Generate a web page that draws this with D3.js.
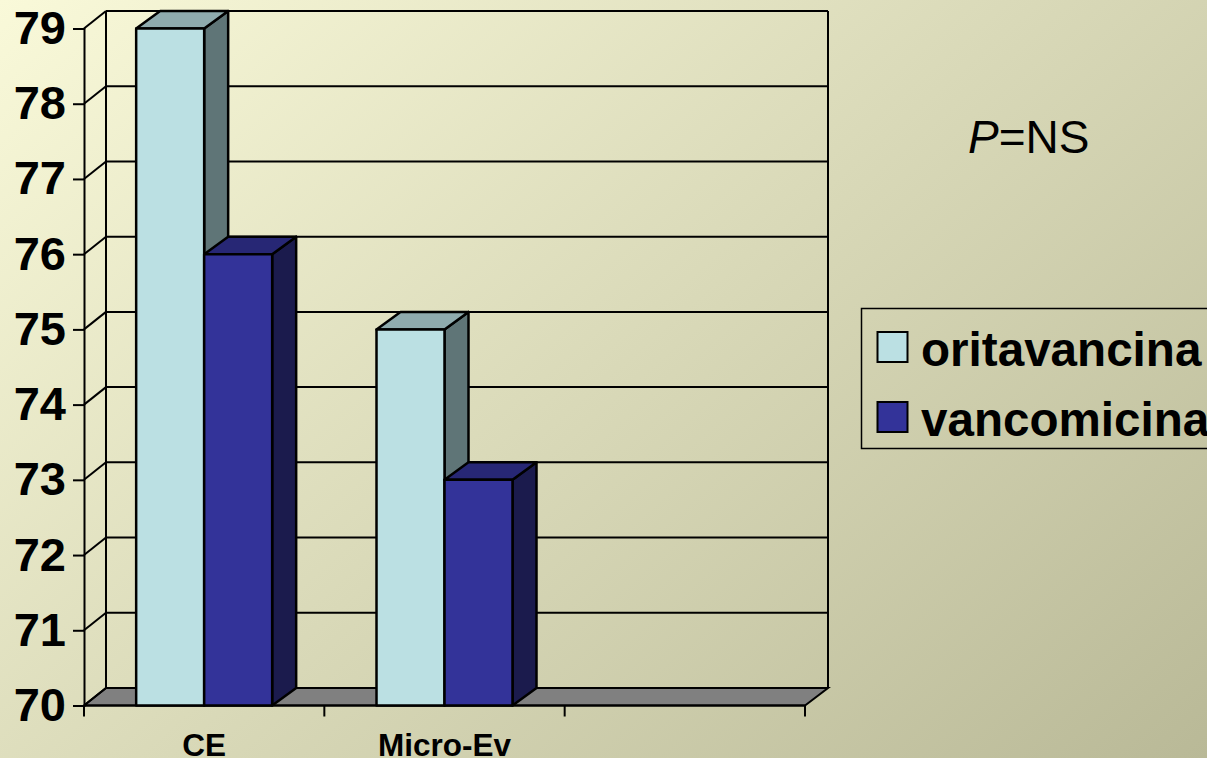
<!DOCTYPE html>
<html>
<head>
<meta charset="utf-8">
<script src="https://cdn.jsdelivr.net/npm/d3@7/dist/d3.min.js"></script>
<style>
  html, body { margin: 0; padding: 0; overflow: hidden; background: #d8d8b8; }
  svg { display: block; }
  text { font-family: "Liberation Sans", Arial, sans-serif; fill: #000; }
</style>
</head>
<body>
<svg id="chart" width="1207" height="758"></svg>
<script>
// Clinical response rates by analysis population
const categories = ["CE", "Micro-Ev", ""];
const seriesNames = ["oritavancina", "vancomicina"];
const oritavancina = [79, 75];
const vancomicina = [76, 73];
const yTicks = [70, 71, 72, 73, 74, 75, 76, 77, 78, 79];
const pLabel = "NS";

const palette = [
  { front: "#BBE0E3", top: "#8FABAE", side: "#5F7577" },
  { front: "#333399", top: "#272775", side: "#1B1B4D" }
];

const svg = d3.select("#chart");

// Slide background: a soft diagonal wash
const grad = svg.append("defs").append("linearGradient")
  .attr("id", "wash").attr("gradientUnits", "userSpaceOnUse")
  .attr("x1", 0).attr("y1", 0).attr("x2", 893).attr("y2", 1030);
grad.append("stop").attr("offset", 0).attr("stop-color", "#F9F9D9");
grad.append("stop").attr("offset", 1).attr("stop-color", "#B9B997");
svg.append("rect").attr("width", 1207).attr("height", 758).attr("fill", "url(#wash)");

// Front plane of the pseudo-3D plot, with the depth offsets of walls and bars
const plot = { left: 84, right: 805, top: 28.5, bottom: 705.5 };
const wallDepth = { x: 22, y: -17.5 };
const barDepth = { x: 24, y: -17.5 };
const barWidth = 68;

const x = d3.scaleBand().domain(categories).range([plot.left, plot.right]);
const y = d3.scaleLinear().domain([70, 79]).range([plot.bottom, plot.top]);

const line = { stroke: "#000", "stroke-width": 2, fill: "none" };
const applyAttrs = (sel, attrs) => { Object.entries(attrs).forEach(([k, v]) => sel.attr(k, v)); return sel; };
const poly = pts => pts.map(p => p.join(",")).join(" ");

// Floor
svg.append("polygon")
  .attr("points", poly([
    [plot.left, y(70)],
    [plot.left + wallDepth.x, y(70) + wallDepth.y],
    [plot.right + wallDepth.x + 1, y(70) + wallDepth.y],
    [plot.right, y(70)]
  ]))
  .attr("fill", "#808080").attr("stroke", "#000").attr("stroke-width", 2);

// Back-wall frame and gridlines, with the connecting slants on the side wall
const grid = svg.append("g");
grid.selectAll("line.h").data(yTicks).join("line").attr("class", "h")
  .attr("x1", plot.left + wallDepth.x).attr("x2", plot.right + wallDepth.x + 1)
  .attr("y1", d => y(d) + wallDepth.y).attr("y2", d => y(d) + wallDepth.y)
  .call(applyAttrs, line);
grid.selectAll("line.s").data(yTicks).join("line").attr("class", "s")
  .attr("x1", plot.left).attr("x2", plot.left + wallDepth.x)
  .attr("y1", d => y(d)).attr("y2", d => y(d) + wallDepth.y)
  .call(applyAttrs, line);
grid.append("line")
  .attr("x1", plot.left + wallDepth.x).attr("x2", plot.left + wallDepth.x)
  .attr("y1", y(79) + wallDepth.y).attr("y2", y(70) + wallDepth.y)
  .call(applyAttrs, line);
grid.append("line")
  .attr("x1", plot.right + wallDepth.x + 1).attr("x2", plot.right + wallDepth.x + 1)
  .attr("y1", y(79) + wallDepth.y).attr("y2", y(70) + wallDepth.y)
  .call(applyAttrs, line);

// Value axis
const yAxis = svg.append("g").attr("transform", `translate(${plot.left},0)`)
  .call(d3.axisLeft(y).tickValues(yTicks).tickSize(11).tickPadding(7).tickFormat(d3.format("d")));
yAxis.selectAll("path, line").attr("stroke", "#000").attr("stroke-width", 2);
yAxis.selectAll("text")
  .attr("font-size", 47).attr("font-weight", "bold")
  .attr("font-family", "Liberation Sans").attr("fill", "#000");

// Category axis: ticks sit on band edges, labels are centred in each band
const edges = categories.map(c => x(c)).concat(plot.right);
const xAxis = svg.append("g").attr("transform", `translate(0,${plot.bottom})`);
xAxis.append("line").attr("x1", plot.left).attr("x2", plot.right).call(applyAttrs, line);
xAxis.selectAll("line.t").data(edges).join("line").attr("class", "t")
  .attr("x1", d => d).attr("x2", d => d).attr("y1", 0).attr("y2", 11)
  .call(applyAttrs, line);
xAxis.selectAll("text").data(categories).join("text")
  .attr("x", d => x(d) + x.bandwidth() / 2)
  .attr("y", 50)
  .attr("text-anchor", "middle")
  .attr("font-size", 31.5).attr("font-weight", "bold")
  .text(d => d);

// Bars, each a front face plus top and side faces
const barRows = categories.slice(0, oritavancina.length).flatMap((c, i) => [
  { cat: c, s: 0, v: oritavancina[i] },
  { cat: c, s: 1, v: vancomicina[i] }
]);
const barX = d => x(d.cat) + x.bandwidth() / 2 + (d.s - 1) * barWidth;
const bars = svg.append("g").selectAll("g").data(barRows).join("g")
  .attr("stroke", "#000").attr("stroke-width", 2.5).attr("stroke-linejoin", "round");
bars.append("polygon").attr("fill", d => palette[d.s].side).attr("points", d => {
  const r = barX(d) + barWidth;
  return poly([[r, y(d.v)], [r + barDepth.x, y(d.v) + barDepth.y],
               [r + barDepth.x, y(70) + barDepth.y], [r, y(70)]]);
});
bars.append("polygon").attr("fill", d => palette[d.s].top).attr("points", d => {
  const l = barX(d), r = l + barWidth;
  return poly([[l, y(d.v)], [l + barDepth.x, y(d.v) + barDepth.y],
               [r + barDepth.x, y(d.v) + barDepth.y], [r, y(d.v)]]);
});
bars.append("rect").attr("fill", d => palette[d.s].front)
  .attr("x", barX).attr("width", barWidth)
  .attr("y", d => y(d.v)).attr("height", d => y(70) - y(d.v));

// Significance note
const note = svg.append("text").attr("x", 968).attr("y", 153).attr("font-size", 46);
note.append("tspan").attr("font-style", "italic").text("P");
note.append("tspan").text("=" + pLabel);

// Legend, running off the right edge of the slide
const legend = svg.append("g");
legend.append("rect").attr("x", 861.5).attr("y", 308.5).attr("width", 400).attr("height", 140)
  .attr("fill", "none").attr("stroke", "#000").attr("stroke-width", 1.5);
const rows = legend.selectAll("g").data(seriesNames).join("g")
  .attr("transform", (d, i) => `translate(0,${332 + i * 70})`);
rows.append("rect").attr("x", 877.5).attr("y", 0).attr("width", 30).attr("height", 30)
  .attr("fill", (d, i) => palette[i].front).attr("stroke", "#000").attr("stroke-width", 2);
rows.append("text").attr("x", 921).attr("y", 34)
  .attr("font-size", 47.6).attr("font-weight", "bold").text(d => d);
</script>
</body>
</html>
